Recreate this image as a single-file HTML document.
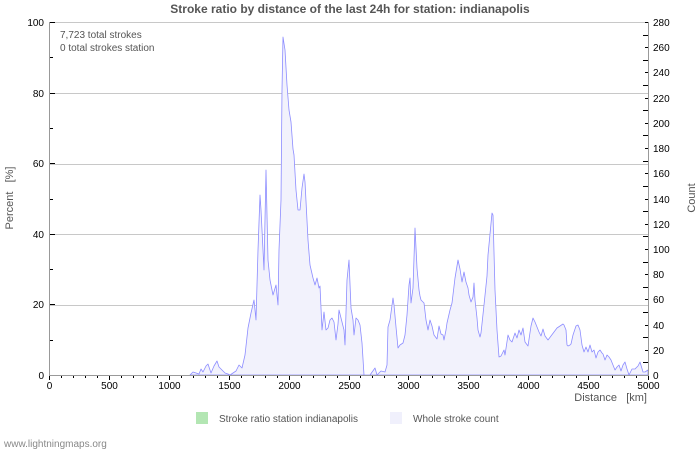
<!DOCTYPE html>
<html><head><meta charset="utf-8"><style>
body{margin:0;background:#fff;}
svg text{font-family:"Liberation Sans","DejaVu Sans",sans-serif;}
</style></head><body>
<svg id="s" width="700" height="450" xmlns="http://www.w3.org/2000/svg">
<rect width="700" height="450" fill="#fff"/>
<g stroke="#c8c8c8" stroke-width="1">
<line x1="50" x2="648" y1="22.5" y2="22.5"/><line x1="50" x2="648" y1="93.5" y2="93.5"/><line x1="50" x2="648" y1="164.5" y2="164.5"/><line x1="50" x2="648" y1="234.5" y2="234.5"/><line x1="50" x2="648" y1="305.5" y2="305.5"/>
</g>
<polygon fill="#f2f2fc" stroke="#8c8cff" stroke-width="0.8" stroke-linejoin="round" points="190,375 193,372 196,373 199,374 201,369 203,372 206,366 208,364 211,373 214,366 217,361 219,367 222,370 225,373 228,374 230,375 233,373 236,371 239,365 242,368 245,355 248,328 251,313 254,300 256,320 258,250 260,195 261,210 264,270 266,170 268,260 270,280 273,295 276,285 278,305 279,250 281,200 282,90 283,37 285,50 287,85 289,110 291,122 293,149 294,155 296,190 298,210 300,210 302,188 304,174 305,182 308,240 310,265 313,278 315,285 317,278 319,288 320,286 322,330 324,312 326,330 328,328 330,320 332,318 334,322 336,340 338,324 339,310 340,314 342,322 344,330 345,345 347,280 349,260 351,308 353,320 354,335 356,318 358,320 360,325 362,343 364,375 370,375 375,368 377,375 381,371 385,372 387,365 388,327 390,320 393,298 394,305 396,327 398,348 400,345 403,343 405,335 407,315 409,285 410,278 411,303 413,288 415,228 417,268 419,290 420,296 421,300 424,303 426,320 428,330 430,320 432,326 434,335 437,339 439,326 441,334 443,335 444,340 446,330 447,323 450,310 452,303 455,278 458,260 460,269 462,282 464,272 466,282 468,288 469,295 471,302 473,297 474,283 475,300 477,318 478,330 480,337 481,333 484,305 487,276 488,255 490,234 492,213 493,215 495,290 497,330 499,357 501,356 504,350 505,355 508,335 510,340 512,342 515,333 517,338 519,330 521,335 523,328 525,342 528,346 531,326 533,318 535,322 537,327 539,332 541,336 543,329 545,336 548,340 551,336 554,332 557,328 560,326 563,324 564,325 566,330 567,345 568,346 570,345 571,344 573,335 576,326 578,325 580,330 582,345 584,352 586,347 588,352 590,345 592,352 594,350 596,358 598,352 600,350 602,353 603,354 605,360 607,355 609,357 611,360 613,365 615,370 617,367 619,365 621,371 623,365 625,362 627,369 629,375 632,369 635,369 638,366 640,362 643,372 645,372 648,370 648,375"/>
<g id="ax" stroke="#000" stroke-width="1"></g>
<line x1="49.5" x2="49.5" y1="22" y2="375" stroke="#999"/>
<line x1="648.5" x2="648.5" y1="22" y2="375" stroke="#999"/>
<line x1="49" x2="649" y1="375.5" y2="375.5" stroke="#999"/>
<g font-size="10" fill="#000" id="lab"></g>
<text x="350" y="13" font-size="12" font-weight="bold" fill="#555" text-anchor="middle">Stroke ratio by distance of the last 24h for station: indianapolis</text>
<text x="60" y="38" font-size="10" fill="#555">7,723 total strokes</text>
<text x="60" y="51" font-size="10" fill="#555">0 total strokes station</text>
<text transform="translate(13,198) rotate(-90)" font-size="11" fill="#555" text-anchor="middle">Percent&#160;&#160;&#160;[%]</text>
<text transform="translate(695,198) rotate(-90)" font-size="11" fill="#555" text-anchor="middle">Count</text>
<text x="647" y="401" font-size="11" fill="#555" text-anchor="end">Distance&#160;&#160;&#160;[km]</text>
<rect x="196" y="412" width="12" height="12" fill="#b3e6b3"/>
<text x="219" y="422" font-size="10" fill="#555">Stroke ratio station indianapolis</text>
<rect x="390" y="412" width="12" height="12" fill="#f0f0fc"/>
<text x="413" y="422" font-size="10" fill="#555">Whole stroke count</text>
<text x="4" y="447" font-size="10" fill="#888">www.lightningmaps.org</text>
</svg>
<script>
var ax=document.getElementById('ax'),lab=document.getElementById('lab'),ns='http://www.w3.org/2000/svg';
function L(x1,y1,x2,y2){var l=document.createElementNS(ns,'line');l.setAttribute('x1',x1);l.setAttribute('y1',y1);l.setAttribute('x2',x2);l.setAttribute('y2',y2);ax.appendChild(l);}
function T(x,y,t,a){var e=document.createElementNS(ns,'text');e.setAttribute('x',x);e.setAttribute('y',y);e.setAttribute('text-anchor',a);e.textContent=t;lab.appendChild(e);}
for(var i=0;i<=10;i++){var y=Math.round(375-i*35.3)+0.5;L(50,y,i%2?53:55,y);if(i%2==0)T(44,y+3.5,i*10,'end');}
for(var i=0;i<=28;i++){var y=Math.round(375-i*353/28)+0.5;L(648,y,i%2?643:645,y);if(i%2==0)T(653,y+3.5,i*10,'start');}
for(var i=0;i<=50;i++){var x=Math.round(49+i*11.98)+0.5;L(x,375,x,i%5?378:380);if(i%5==0)T(x,389,i*100,'middle');}
</script>
</body></html>
